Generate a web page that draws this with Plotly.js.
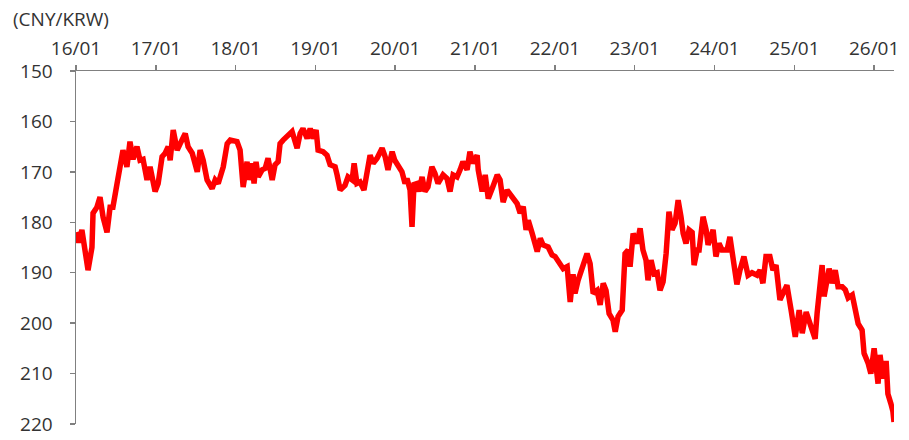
<!DOCTYPE html>
<html>
<head>
<meta charset="utf-8">
<script src="https://cdn.plot.ly/plotly-3.0.1.min.js"></script>
<style>
  html, body { margin: 0; padding: 0; background: #ffffff; }
  #chart { width: 909px; height: 440px; }
</style>
</head>
<body>
<div id="chart"></div>
<script>
// CNY/KRW exchange rate
const dates = [
  "2016-01-01","2016-01-14","2016-01-28","2016-02-11","2016-02-25","2016-03-14","2016-03-19","2016-04-06","2016-04-20","2016-05-04",
  "2016-05-22","2016-06-05","2016-06-18","2016-07-07","2016-07-20","2016-08-03","2016-08-21","2016-09-04","2016-09-18","2016-10-06",
  "2016-10-20","2016-11-03","2016-11-21","2016-12-05","2016-12-28",
  "2017-01-11","2017-01-29","2017-02-12","2017-02-26","2017-03-07","2017-03-21","2017-04-08","2017-04-22","2017-05-15","2017-05-28",
  "2017-06-16","2017-07-09","2017-07-22","2017-08-05","2017-08-23","2017-09-15","2017-09-29","2017-10-13","2017-11-05","2017-11-23",
  "2017-12-07",
  "2018-01-07","2018-01-21","2018-02-04","2018-02-22","2018-02-27","2018-03-17","2018-03-26","2018-04-04","2018-04-14","2018-05-02",
  "2018-05-16","2018-05-29","2018-06-17","2018-06-30","2018-07-14","2018-07-23","2018-08-06","2018-08-29","2018-09-16","2018-10-09",
  "2018-10-23","2018-11-05","2018-11-24","2018-12-08","2018-12-21",
  "2019-01-04","2019-01-13","2019-02-05","2019-02-23","2019-03-09","2019-04-01","2019-04-10","2019-04-24","2019-05-16","2019-05-30",
  "2019-06-18","2019-06-27","2019-07-10","2019-07-24","2019-08-11","2019-08-25","2019-09-08","2019-09-22","2019-10-10","2019-11-02",
  "2019-11-16","2019-11-29","2019-12-18","2019-12-30",
  "2020-01-14","2020-02-01","2020-02-15","2020-02-24","2020-03-09","2020-03-18","2020-03-27","2020-04-10","2020-04-19","2020-05-03",
  "2020-05-16","2020-05-30","2020-06-17","2020-07-01","2020-07-15","2020-08-07","2020-08-25","2020-09-08","2020-09-22","2020-10-10",
  "2020-10-24","2020-11-06","2020-11-25","2020-12-08","2020-12-22",
  "2021-01-10","2021-01-15","2021-02-02","2021-02-16","2021-03-02","2021-03-20","2021-04-12","2021-04-25","2021-05-09","2021-05-27",
  "2021-06-10","2021-06-24","2021-07-12","2021-07-26","2021-08-09","2021-08-22","2021-09-01","2021-09-19","2021-10-03","2021-10-12",
  "2021-10-26","2021-11-08","2021-12-01","2021-12-19",
  "2022-01-02","2022-01-25","2022-02-08","2022-02-26","2022-03-12","2022-03-25","2022-04-03","2022-04-17","2022-05-05","2022-05-28",
  "2022-06-11","2022-06-25","2022-07-13","2022-07-27","2022-08-10","2022-08-23","2022-09-06","2022-09-24","2022-10-04","2022-10-17",
  "2022-11-05","2022-11-09","2022-11-18","2022-12-02","2022-12-11","2022-12-25",
  "2023-01-12","2023-01-26","2023-02-08","2023-02-22","2023-03-03","2023-03-17","2023-03-31","2023-04-14","2023-04-27","2023-05-11",
  "2023-05-25","2023-06-07","2023-06-21","2023-07-05","2023-07-19","2023-08-01","2023-08-11","2023-08-24","2023-09-07","2023-09-21",
  "2023-09-30","2023-10-14","2023-10-23","2023-11-10","2023-11-24","2023-12-03","2023-12-26",
  "2024-01-08","2024-01-22","2024-02-05","2024-02-28","2024-03-12","2024-03-26","2024-04-13","2024-04-27","2024-05-15","2024-06-03",
  "2024-06-21","2024-07-14","2024-07-28","2024-08-10","2024-08-24","2024-09-11","2024-09-25","2024-10-09","2024-10-27","2024-11-10",
  "2024-11-28","2024-12-17",
  "2025-01-05","2025-01-23","2025-02-06","2025-02-24","2025-03-14","2025-04-06","2025-04-15","2025-04-25","2025-05-08","2025-05-17",
  "2025-05-31","2025-06-09","2025-06-23","2025-07-07","2025-07-20","2025-08-08","2025-08-22","2025-09-04","2025-09-23","2025-10-06",
  "2025-10-20","2025-11-07","2025-11-16","2025-12-05","2025-12-17",
  "2026-01-01","2026-01-10","2026-01-19","2026-01-28","2026-02-11","2026-02-25","2026-03-05","2026-03-19","2026-03-28","2026-04-02"
];

const rates = [
  182,184,181.5,185,189.5,185,178.2,177,175,179,
  182,177,177,172.3,169.6,165.7,169,164,167.5,165,
  167.7,167.5,171.6,169,173.9,
  172.3,167,166.3,165,167.7,161.7,165.7,164.4,162.4,165,
  166.3,170,165.7,167.7,171.6,173.3,171.6,172.3,169,164.4,
  163.7,
  164,165.7,173,168,171.6,168.3,172.3,168,171,169.6,
  169.3,167.3,171.6,168.6,168,164.4,163.7,162.7,162,165.3,
  162.4,161.4,163.4,161.4,163.4,
  161.7,165.7,166,166.7,168.6,169,170.6,173.6,172.7,171,
  171.6,168.3,172.3,172,173.6,170.3,166.7,168.3,167.3,165.3,
  167,169.6,166,167.7,
  169,170,172.3,171.3,173.6,180.9,172.5,172.3,173.9,171,
  173.9,173,169,170.3,172.3,170.6,171.3,173.9,170.6,171,
  169.6,168,169.6,166,168.3,
  166.7,169.6,173.9,170.6,175.3,173.3,170.6,171.6,176,173.6,
  174.3,175,176.3,178.2,176.9,181.5,179.6,182.2,183.9,185.8,
  183.2,184.5,184.9,186.5,
  186.8,188.2,189.2,188.8,195.8,190.3,194.1,191.5,189,186.2,
  188.2,194.1,193.5,196.4,192.1,193.5,198.1,199.4,201.7,198.7,
  197.4,192.1,186.2,185.5,188.8,182.2,
  184.2,181.2,185.5,187.5,191.5,187.5,190.2,190,193.5,191.8,
  186.2,177.9,181.5,180.2,175.6,178.9,182.2,184.2,181.5,182,
  188.5,185.5,185.5,178.9,181.5,184.5,181.5,
  186.8,184.2,185.5,185.5,182.9,186.5,192.3,189.5,186.8,190.5,
  190,190.5,189.5,192.1,186.8,186.8,189.5,188.5,195.4,194.1,
  192.5,197.4,
  202.7,197.4,202,197.8,200,203.1,198.1,194.1,188.5,194.7,
  190.2,189.2,192.1,189.5,192.8,192.8,193.4,195,194.4,197.4,
  200.1,201.4,206,208,210,
  205,209,212,206.3,211,207.5,214,216,217.5,219.6
];

const xRange = ["2016-01-01", "2026-04-02"];
const yRange = [220, 150];
const unitLabel = "(CNY/KRW)";

const textColor = "#333333";
const axisColor = "#808080";
const fontFamily = "'Open Sans', 'Noto Sans', sans-serif";

const trace = {
  x: dates,
  y: rates,
  type: "scatter",
  mode: "lines",
  line: { color: "#ff0000", width: 5.5 },
  hoverinfo: "x+y"
};

const layout = {
  width: 909,
  height: 440,
  margin: { l: 76, r: 15, t: 71, b: 16, pad: 0 },
  paper_bgcolor: "#ffffff",
  plot_bgcolor: "#ffffff",
  showlegend: false,
  font: { family: fontFamily, size: 19, color: textColor },
  xaxis: {
    type: "date",
    side: "top",
    range: xRange,
    tick0: "2016-01-01",
    dtick: "M12",
    tickformat: "%y/%m",
    ticks: "outside",
    ticklen: 5,
    tickwidth: 1.5,
    tickcolor: axisColor,
    showline: true,
    linecolor: axisColor,
    linewidth: 1.5,
    showgrid: false,
    zeroline: false,
    ticklabelstandoff: 2,
    tickfont: { family: fontFamily, size: 19, color: textColor }
  },
  yaxis: {
    range: yRange,
    dtick: 10,
    ticks: "outside",
    ticklen: 5,
    tickwidth: 1.5,
    tickcolor: axisColor,
    showline: true,
    linecolor: axisColor,
    linewidth: 1.5,
    showgrid: false,
    zeroline: false,
    ticklabelstandoff: 13,
    tickfont: { family: fontFamily, size: 19, color: textColor }
  },
  annotations: [{
    text: unitLabel,
    xref: "paper", yref: "paper",
    x: -65 / 818, y: 1 + (71 - 19.5) / 353,
    xanchor: "left", yanchor: "middle",
    showarrow: false,
    font: { family: fontFamily, size: 19, color: textColor }
  }]
};

Plotly.newPlot("chart", [trace], layout, { staticPlot: true, displayModeBar: false });
</script>
</body>
</html>
